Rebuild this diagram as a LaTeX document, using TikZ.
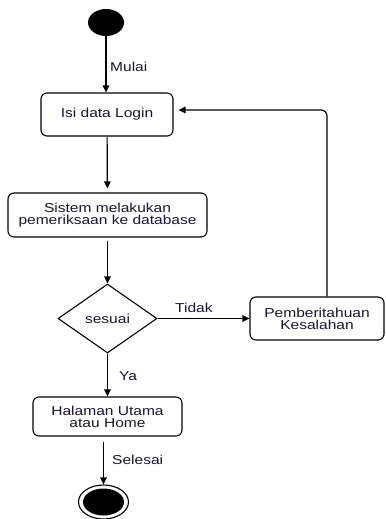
\documentclass[tikz,border=0pt]{standalone}
\usepackage{fontspec}
\setmainfont{Liberation Sans}[FakeStretch=1.2]
\usetikzlibrary{shapes.geometric,arrows.meta}
\definecolor{txt}{RGB}{22,22,48}
\begin{document}
\begin{tikzpicture}[x=1bp,y=-1bp,
  every node/.style={font=\fontsize{13}{12}\selectfont, text=txt},
  act/.style={draw, rounded corners=6bp, line width=1.1bp, align=center, inner sep=0pt},
  conn/.style={line width=1.2bp, -{Triangle[length=7bp,width=6.5bp]}},
  lbl/.style={anchor=west, inner sep=0pt}]
\useasboundingbox (0,0) rectangle (385,519);
\node[ellipse, fill=black, minimum width=36bp, minimum height=27bp, inner sep=0pt] (start) at (106,22.5) {};
\node[act, minimum width=132bp, minimum height=43bp] (login) at (107,114.5) {Isi data Login};
\node[act, minimum width=199bp, minimum height=44bp] (sistem) at (107.5,215) {Sistem melakukan\\pemeriksaan ke database};
\node[diamond, draw, line width=1.1bp, minimum width=99bp, minimum height=69bp, inner sep=0pt] (cek) at (107.5,318.5) {sesuai};
\node[act, minimum width=134bp, minimum height=43bp] (pemb) at (317,318.5) {Pemberitahuan\\Kesalahan};
\node[act, minimum width=149bp, minimum height=39bp] (home) at (107.5,416.5) {Halaman Utama\\atau Home};
\node[ellipse, draw, line width=1.1bp, minimum width=50bp, minimum height=34bp, inner sep=0pt] (end) at (103.5,502) {};
\node[ellipse, fill=black, minimum width=41bp, minimum height=27bp, inner sep=0pt] (endin) at (end.center) {};

\draw[conn] (start) -- (start |- login.north);
\node[lbl] (lmulai) at (110,67) {Mulai};
\draw[conn, shorten >=4bp] (login) -- (sistem);
\draw[conn, shorten <=3bp] (sistem) -- (cek);
\draw[conn] (cek) -- (pemb);
\node[lbl] (ltidak) at (175,308) {Tidak};
\draw[conn, rounded corners=6bp, shorten >=5bp] ([xshift=10bp]pemb.north) |- ([yshift=4.5bp]login.east);
\draw[conn] (cek) -- (home);
\node[lbl] (lya) at (119,376) {Ya};
\draw[conn, shorten <=5bp] (end |- home.south) -- (end);
\node[lbl] (lselesai) at (112,460) {Selesai};
\end{tikzpicture}
\end{document}
